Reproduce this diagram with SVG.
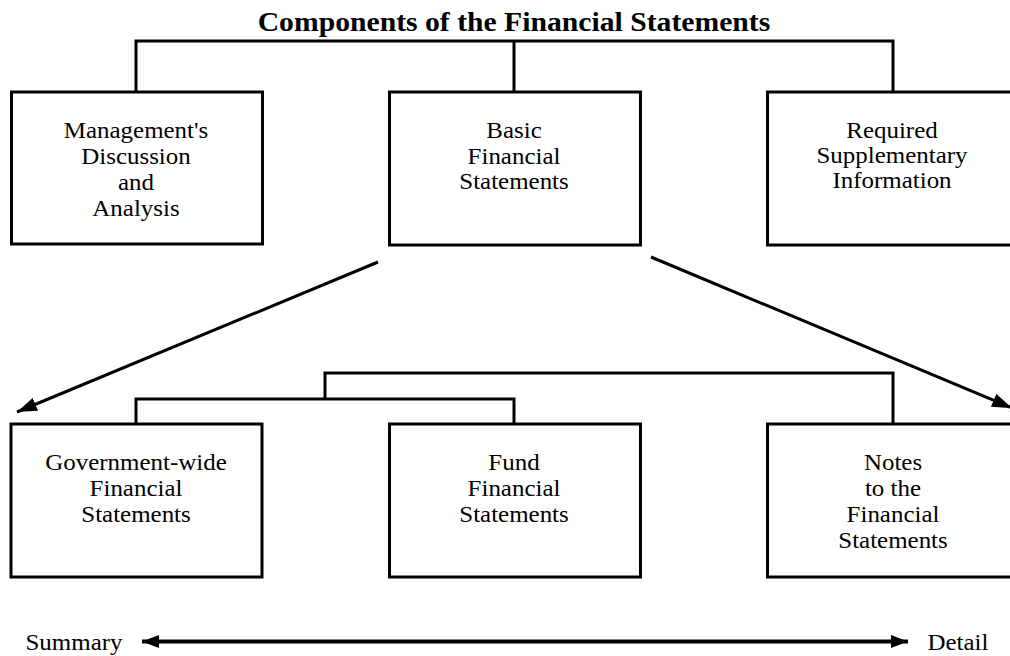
<svg xmlns="http://www.w3.org/2000/svg" width="1010" height="656" viewBox="0 0 1010 656">
<defs>
<marker id="ah" viewBox="0 0 20 14" refX="20" refY="7" markerWidth="20" markerHeight="14" markerUnits="userSpaceOnUse" orient="auto">
<path d="M0,0 L20,7 L0,14 z" fill="#000"/>
</marker>
<marker id="ah2" viewBox="0 0 17 13" refX="17" refY="6.5" markerWidth="17" markerHeight="13" markerUnits="userSpaceOnUse" orient="auto-start-reverse">
<path d="M0,0 L17,6.5 L0,13 z" fill="#000"/>
</marker>
<style>
.box{fill:#fff;stroke:#000;stroke-width:3}
.ln{fill:none;stroke:#000;stroke-width:3}
.t{font-family:"Liberation Serif","Times New Roman",serif;font-size:22.5px;fill:#000;text-anchor:middle}
.title{font-family:"Liberation Serif","Times New Roman",serif;font-size:26.5px;font-weight:bold;fill:#000;text-anchor:middle}
</style>
</defs>
<rect width="1010" height="656" fill="#fff"/>
<text class="title" transform="translate(514,31) scale(1.12,1)" x="0" y="0">Components of the Financial Statements</text>
<g id="connectors">
<polyline class="ln" points="136,92 136,41 893,41 893,92"/>
<line class="ln" x1="514" y1="41" x2="514" y2="92"/>
<polyline class="ln" points="136,424 136,399 514,399 514,424"/>
<polyline class="ln" points="325,399 325,373 893,373 893,424"/>
<line class="ln" x1="378" y1="262" x2="17" y2="412" marker-end="url(#ah)"/>
<line class="ln" x1="651" y1="257" x2="1012" y2="408" marker-end="url(#ah)"/>
<line class="ln" x1="142" y1="641.5" x2="908" y2="641.5" style="stroke-width:4" marker-start="url(#ah2)" marker-end="url(#ah2)"/>
</g>
<g id="mda">
<rect class="box" x="11.5" y="92" width="251" height="152"/>
<text class="t" transform="translate(136,138) scale(1.11,1)"><tspan x="0" y="0">Management's</tspan><tspan x="0" y="26">Discussion</tspan><tspan x="0" y="52">and</tspan><tspan x="0" y="78">Analysis</tspan></text>
</g>
<g id="basic">
<rect class="box" x="389.5" y="92" width="251" height="153"/>
<text class="t" transform="translate(514,138) scale(1.11,1)"><tspan x="0" y="0">Basic</tspan><tspan x="0" y="26">Financial</tspan><tspan x="0" y="51">Statements</tspan></text>
</g>
<g id="rsi">
<rect class="box" x="767.5" y="92" width="251" height="153"/>
<text class="t" transform="translate(892,138) scale(1.11,1)"><tspan x="0" y="0">Required</tspan><tspan x="0" y="25">Supplementary</tspan><tspan x="0" y="50">Information</tspan></text>
</g>
<g id="gov">
<rect class="box" x="11" y="424" width="251" height="153"/>
<text class="t" transform="translate(136,470) scale(1.11,1)"><tspan x="0" y="0">Government-wide</tspan><tspan x="0" y="26">Financial</tspan><tspan x="0" y="52">Statements</tspan></text>
</g>
<g id="fund">
<rect class="box" x="389.5" y="424" width="251" height="153"/>
<text class="t" transform="translate(514,470) scale(1.11,1)"><tspan x="0" y="0">Fund</tspan><tspan x="0" y="26">Financial</tspan><tspan x="0" y="52">Statements</tspan></text>
</g>
<g id="notes">
<rect class="box" x="767.5" y="424" width="251" height="153"/>
<text class="t" transform="translate(893,470) scale(1.11,1)"><tspan x="0" y="0">Notes</tspan><tspan x="0" y="26">to the</tspan><tspan x="0" y="52">Financial</tspan><tspan x="0" y="78">Statements</tspan></text>
</g>
<g id="scale">
<text class="t" transform="translate(74,650) scale(1.11,1)">Summary</text>
<text class="t" transform="translate(958,650) scale(1.11,1)">Detail</text>
</g>
</svg>
